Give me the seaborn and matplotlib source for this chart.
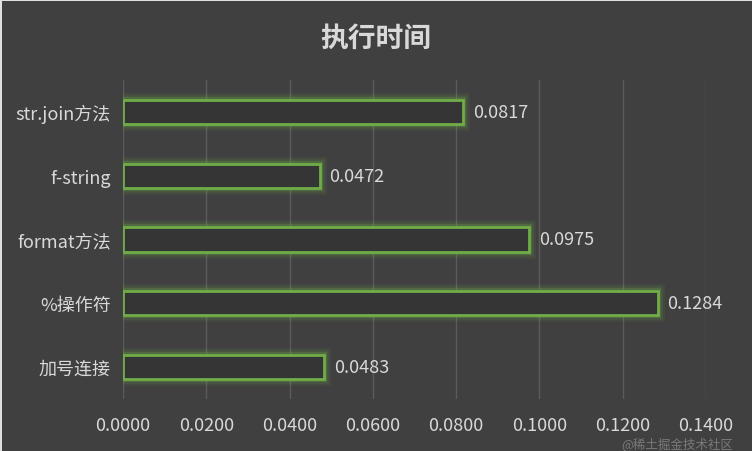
"""Horizontal bar chart: execution time of Python string concatenation methods."""
import matplotlib
matplotlib.use("Agg")
import matplotlib.pyplot as plt
import matplotlib.patheffects as pe
from matplotlib.patches import Rectangle
import pandas as pd
import seaborn as sns

METHODS = ["str.join方法", "f-string", "format方法", "%操作符", "加号连接"]
TIMES = [0.0817, 0.0472, 0.0975, 0.1284, 0.0483]
X_TICKS = [0.0, 0.02, 0.04, 0.06, 0.08, 0.10, 0.12, 0.14]

BG = "#404040"
GREEN = "#70ad47"
TEXT = "#d9d9d9"
GRID = "#5b5b5b"

sns.set_theme(style="dark")
plt.rcParams["font.family"] = ["Noto Sans CJK SC", "DejaVu Sans"]

df = pd.DataFrame({"method": METHODS, "time": TIMES})

fig = plt.figure(figsize=(7.52, 4.52), dpi=100, facecolor=BG)
ax = fig.add_axes([0.1636, 0.115, 0.775, 0.706])
ax.set_facecolor(BG)

sns.barplot(data=df, x="time", y="method", order=METHODS, orient="h",
            color="#353535", width=0.38, ax=ax, zorder=3)

# green outline with a soft glow around each bar
for patch in ax.patches:
    patch.set_edgecolor(GREEN)
    patch.set_linewidth(2)
    patch.set_path_effects([
        pe.Stroke(linewidth=10, foreground=GREEN, alpha=0.08),
        pe.Stroke(linewidth=7, foreground=GREEN, alpha=0.12),
        pe.Stroke(linewidth=4.5, foreground=GREEN, alpha=0.25),
        pe.Normal(),
    ])

for container in ax.containers:
    ax.bar_label(container, fmt="%.4f", padding=7, color=TEXT, fontsize=13)

ax.set_xlim(0, 0.14)
ax.set_xticks(X_TICKS)
ax.set_xticklabels([f"{t:.4f}" for t in X_TICKS])
ax.grid(axis="x", color=GRID, linewidth=1, zorder=0)
ax.grid(axis="y", visible=False)
ax.tick_params(axis="both", colors=TEXT, labelsize=13, length=0)
ax.tick_params(axis="x", pad=12)
ax.tick_params(axis="y", pad=9)
for lbl in ax.get_xticklabels() + ax.get_yticklabels():
    lbl.set_color(TEXT)
for spine in ax.spines.values():
    spine.set_visible(False)
ax.set_xlabel("")
ax.set_ylabel("")

fig.text(0.5, 0.915, "执行时间", ha="center", va="center",
         fontsize=20, fontweight="bold", color=TEXT)
fig.text(0.975, 0.018, "@稀土掘金技术社区", ha="right", va="center",
         fontsize=9, color="white", alpha=0.3)

# light frame along the top and left edges, as in the screenshot
fig.patches.append(Rectangle((0, 1 - 2 / 452), 1, 2 / 452, transform=fig.transFigure,
                             facecolor="#e0e0e0", edgecolor="none"))
fig.patches.append(Rectangle((0, 0), 2 / 752, 1, transform=fig.transFigure,
                             facecolor="#e0e0e0", edgecolor="none"))

fig.savefig("out.png", dpi=100, facecolor=BG)
plt.close(fig)
